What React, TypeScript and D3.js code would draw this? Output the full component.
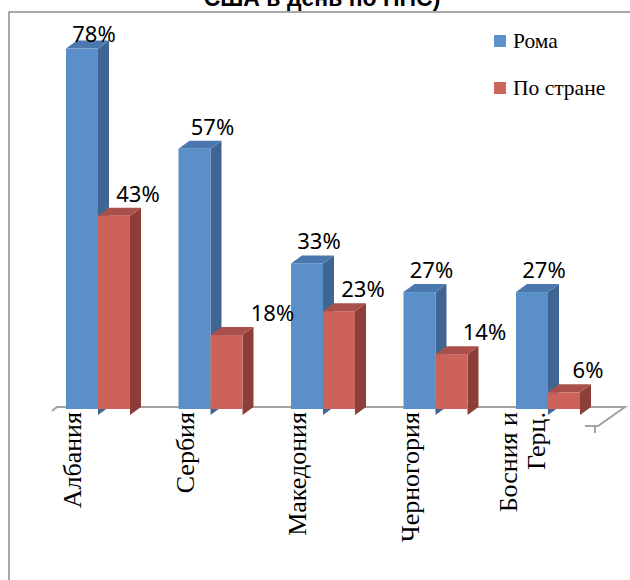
import React from 'react';
import * as d3 from 'd3';

// данные графика
const categories = ['Албания', 'Сербия', 'Македония', 'Черногория', 'Босния и\nГерц.'];
const seriesNames = ['Рома', 'По стране'];
const romaValues = [78, 57, 33, 27, 27];
const countryValues = [43, 18, 23, 14, 6];
const titleText = 'США в день по ППС)';

const width = 630;
const height = 580;
const floorY = 409;
const depthX = 11;
const depthY = 8;

// цвета: фронт, бок, верх
const palette = [
    { front: '#5a8fc9', side: '#3f6592', top: '#4a78ae', legend: '#5e92cb' },
    { front: '#cc6259', side: '#8d3e39', top: '#a9504a', legend: '#cd635b' },
];

// ручные сдвиги подписей (в оригинале некоторые подписи сдвинуты вправо)
const labelNudge: Record<string, number> = { '1-0': 6, '1-1': 22, '3-1': 9 };

const App = () => {
    const xScale = d3.scaleBand<string>()
        .domain(categories)
        .range([41.75, 604.25])
        .paddingInner(0.431)
        .paddingOuter(0.2155);

    const xSeries = d3.scaleBand<string>()
        .domain(seriesNames)
        .range([0, xScale.bandwidth()]);

    const yScale = d3.scaleLinear()
        .domain([0, 80])
        .range([421, 39]);

    const series = [romaValues, countryValues];
    const labelShift = [12, 24];
    const bw = xSeries.bandwidth();

    const bars: React.ReactNode[] = [];
    categories.forEach((cat, ci) => {
        series.forEach((vals, si) => {
            const v = vals[ci];
            const x = (xScale(cat) ?? 0) + (xSeries(seriesNames[si]) ?? 0);
            const yTop = yScale(v);
            const c = palette[si];
            bars.push(
                <g key={`${ci}-${si}`}>
                    {/* боковая грань */}
                    <path
                        d={`M${x + bw},${yTop} L${x + bw + depthX},${yTop - depthY} L${x + bw + depthX},${floorY - depthY + 6} L${x + bw},${floorY + 6} Z`}
                        fill={c.side}
                    />
                    {/* верхняя грань */}
                    <path
                        d={`M${x},${yTop} L${x + depthX},${yTop - depthY} L${x + bw + depthX},${yTop - depthY} L${x + bw},${yTop} Z`}
                        fill={c.top}
                    />
                    {/* передняя грань */}
                    <rect x={x} y={yTop} width={bw} height={floorY - yTop} fill={c.front} />
                </g>
            );
        });
    });

    const labels: React.ReactNode[] = [];
    categories.forEach((cat, ci) => {
        series.forEach((vals, si) => {
            const v = vals[ci];
            const nudge = labelNudge[`${ci}-${si}`] ?? 0;
            const x = (xScale(cat) ?? 0) + (xSeries(seriesNames[si]) ?? 0) + bw / 2 + labelShift[si] + nudge;
            const y = Math.max(yScale(v) - 14, 42);
            labels.push(
                <text key={`l${ci}-${si}`} x={x} y={y} textAnchor="middle"
                      fontFamily="'Noto Sans', sans-serif" fontSize={22} fill="#000">
                    {`${v}%`}
                </text>
            );
        });
    });

    return (
        <svg width={width} height={height} style={{ position: 'absolute', left: 0, top: 0, background: '#fff' }}>
            {/* заголовок (обрезан сверху, как в оригинале) */}
            <text x={322} y={6} textAnchor="middle" fontFamily="'Liberation Sans', Arial, sans-serif"
                  fontWeight="bold" fontSize={23} fill="#000">{titleText}</text>

            {/* рамка */}
            <path d={`M9,${height} L9,12 L${width},12`} fill="none" stroke="#8c8c8c" strokeWidth={1.5} />

            {/* пол */}
            <g fill="none" stroke="#a3a3a3" strokeWidth={2}>
                <path d={`M52,411 L57,${floorY - 2} L625,${floorY - 2} L598,426 L585,426`} />
                <path d="M595,426 L595,433" />
            </g>

            {bars}
            {labels}

            {/* подписи категорий */}
            {categories.map(cat => {
                const lines = cat.split('\n');
                const cx = (xScale(cat) ?? 0) + 7;
                return lines.map((line, li) => {
                    const lx = cx + (li - (lines.length - 1) / 2) * 28;
                    return (
                        <text key={`${cat}-${li}`} transform={`translate(${lx},412) rotate(-90)`}
                              textAnchor="end" dominantBaseline="central"
                              fontFamily="'Liberation Serif', 'Times New Roman', serif" fontSize={26} fill="#000">
                            {line}
                        </text>
                    );
                });
            })}

            {/* легенда */}
            {seriesNames.map((name, i) => (
                <g key={name} transform={`translate(494,${35 + i * 47})`}>
                    <rect x={0} y={0} width={12} height={12} fill={palette[i].legend} />
                    <text x={19} y={13} fontFamily="'Liberation Serif', 'Times New Roman', serif"
                          fontSize={21.5} fill="#000">{name}</text>
                </g>
            ))}
        </svg>
    );
};

export default App;
